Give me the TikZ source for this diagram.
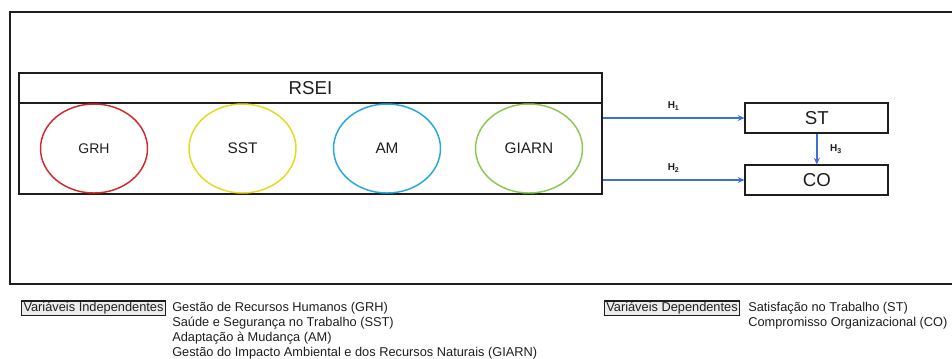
\documentclass[tikz,border=0pt]{standalone}
\usepackage{fontspec}
\setmainfont{Liberation Sans}
\usetikzlibrary{arrows.meta,shapes.geometric}
\definecolor{ringred}{RGB}{208,40,44}
\definecolor{ringyellow}{RGB}{230,218,30}
\definecolor{ringblue}{RGB}{34,168,222}
\definecolor{ringgreen}{RGB}{140,200,78}
\definecolor{linkblue}{RGB}{62,112,212}
\definecolor{ink}{RGB}{30,30,30}
\definecolor{tagfill}{RGB}{236,236,236}
\begin{document}
\begin{tikzpicture}[x=0.75pt,y=-0.75pt,
  frame/.style={draw=ink,line width=1.4pt},
  boxline/.style={draw=ink,line width=1.3pt},
  ring/.style={ellipse,draw,line width=1.1pt,minimum width=80.25pt,minimum height=66.75pt,inner sep=0pt,text=ink},
  outbox/.style={boxline,minimum width=107.25pt,minimum height=22pt,inner sep=0pt,font=\fontsize{14}{15}\selectfont,text=ink},
  link/.style={draw=linkblue,line width=1.2pt,-{Stealth[length=5pt,width=4.5pt]}},
  hlabel/.style={font=\bfseries\fontsize{7.5}{8}\selectfont,text=ink},
  tag/.style={draw=ink,line width=0.9pt,fill=tagfill,inner xsep=1.5pt,inner ysep=0.8pt,font=\fontsize{9.6}{11}\selectfont,text=ink},
  item/.style={anchor=west,inner sep=0pt,font=\fontsize{9.6}{11}\selectfont,text=ink}]
\useasboundingbox (0,0) rectangle (952,358);

% outer frame, open on the right
\draw[frame] (952,12) -- (10,12) -- (10,284) -- (952,284);

% RSEI block: header and body
\node[boxline,minimum width=437.25pt,minimum height=22.5pt,inner sep=0pt,
      font=\fontsize{14}{15}\selectfont,text=ink] (rsei) at (310.5,88) {RSEI};
\node[boxline,minimum width=437.25pt,minimum height=68.25pt,inner sep=0pt] (body) at (310.5,148.5) {};

% dimensions of RSEI
\node[ring,draw=ringred,font=\fontsize{10.5}{12}\selectfont] (grh) at (94,148.5) {GRH};
\node[ring,draw=ringyellow,font=\fontsize{11.5}{12}\selectfont] (sst) at (242.5,148.5) {SST};
\node[ring,draw=ringblue,font=\fontsize{11.5}{12}\selectfont] (am) at (387,148.5) {AM};
\node[ring,draw=ringgreen,font=\fontsize{11.5}{12}\selectfont] (giarn) at (529,148.5) {GIARN};

% outcomes
\node[outbox] (st) at (816.8,118) {ST};
\node[outbox] (co) at (816.8,180) {CO};

% hypotheses
\draw[link] (body.east |- st) -- (st.west) node[hlabel,midway,above=2pt] {H\textsubscript{1}};
\draw[link] (body.east |- co) -- (co.west) node[hlabel,midway,above=2pt] {H\textsubscript{2}};
\draw[link] (st.south) -- (co.north) node[hlabel,midway,right=6pt] {H\textsubscript{3}};

% legend
\node[tag] (indep) at (93.5,308) {Variáveis Independentes};
\node[item] (i1) at (172,308) {Gestão de Recursos Humanos (GRH)};
\node[item] (i2) at (172,323) {Saúde e Segurança no Trabalho (SST)};
\node[item] (i3) at (172,338) {Adaptação à Mudança (AM)};
\node[item] (i4) at (172,353) {Gestão do Impacto Ambiental e dos Recursos Naturais (GIARN)};

\node[tag] (dep) at (672,308) {Variáveis Dependentes\hspace{2pt}};
\node[item] (d1) at (748,308) {Satisfação no Trabalho (ST)};
\node[item] (d2) at (748,323) {Compromisso Organizacional (CO)};
\end{tikzpicture}
\end{document}
